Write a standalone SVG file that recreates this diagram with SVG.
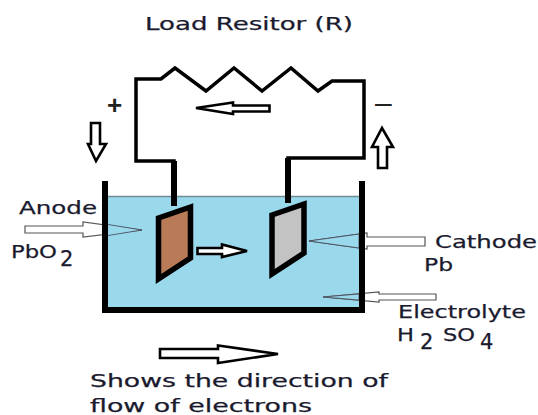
<svg xmlns="http://www.w3.org/2000/svg" width="538" height="415" viewBox="0 0 538 415">
<style>
.t{font-family:"DejaVu Sans","Open Sans",sans-serif;font-size:18px;fill:#1a1a2e;stroke:#1a1a2e;stroke-width:.25px}
.s{font-size:21px}
.w{fill:none;stroke:#000;stroke-width:3.5;stroke-linejoin:miter}
.a{fill:#fff;stroke:#000;stroke-width:2.6}
.thin{fill:#fff;stroke:#555;stroke-width:1.2}
.h{fill:#9ad9eb;stroke:#445;stroke-width:.8}
</style>
<rect width="538" height="415" fill="#fff"/>
<g id="tank">
<rect x="105" y="196" width="257" height="113" fill="#9ad9eb"/>
<path d="M108 196.500H360" stroke="#6f8b95" stroke-width="1.500" fill="none"/>
<path d="M105 181V310H362V181" fill="none" stroke="#000" stroke-width="6"/>
</g>
<g id="connectors">
<path class="w" d="M174 206V161H136V79H161L175 68L206 91L234 68L262 91L291 68L318 91L332 81H364V158H288V203"/>
<path d="M174 161V206M288 158V203" stroke="#000" stroke-width="6" fill="none"/>
</g>
<g id="anode"><polygon points="158.500,218 190.500,207 190.500,258 158.500,279" fill="#b97a57" stroke="#000" stroke-width="5.500"/></g>
<g id="cathode"><polygon points="272,215 304,204 304,253 272,274" fill="#c3c3c3" stroke="#000" stroke-width="5.500"/></g>
<g id="arrow-top"><path class="a" d="M196 108L233 102.500V105.500H269.500V111.500H233V114Z"/></g>
<g id="arrow-left"><path class="a" d="M91 123H100V144H106L96 161L88 144H91Z"/></g>
<g id="arrow-right"><path class="a" d="M378 168V147H372L382 128L393 147H387V168Z"/></g>
<g id="arrow-mid"><path class="a" d="M197.500 248H222V244.500L247 251L222 257V254H197.500Z"/></g>
<g id="arrow-legend"><path class="a" d="M160 349H218V345.500L278 354L218 363V358H160Z"/></g>
<g id="arrow-anode"><path class="thin" d="M25 226H83V222L142 230L83 237V233H25Z"/><path class="h" d="M105 224L142 230L105 236Z"/><rect x="102" y="220" width="6" height="20" fill="#000"/></g>
<g id="arrow-cathode"><path class="thin" d="M425 237V246H367V249L309 241L367 233V237Z"/><path class="h" d="M359 234L309 241L359 248Z"/><rect x="359" y="231" width="6" height="20" fill="#000"/></g>
<g id="arrow-electrolyte"><path class="thin" d="M436 294V300H379V302L323 297L379 292V294Z"/><path class="h" d="M359 294L323 297L359 300Z"/><rect x="359" y="290" width="6" height="14" fill="#000"/></g>
<g id="labels">
<text class="t" x="145" y="30" textLength="208" lengthAdjust="spacingAndGlyphs">Load Resitor (R)</text>
<text x="107" y="114" font-family="Liberation Sans,sans-serif" font-size="26" font-weight="700" fill="#222">+</text>
<text x="375" y="113" font-family="Liberation Sans,sans-serif" font-size="30" fill="#222">–</text>
<text class="t" x="19" y="214" textLength="78" lengthAdjust="spacingAndGlyphs">Anode</text>
<text class="t" x="11" y="258" textLength="46" lengthAdjust="spacingAndGlyphs">PbO</text>
<text class="t s" x="60" y="266">2</text>
<text class="t" x="435" y="248" textLength="102" lengthAdjust="spacingAndGlyphs">Cathode</text>
<text class="t" x="424" y="271" textLength="29" lengthAdjust="spacingAndGlyphs">Pb</text>
<text class="t" x="398" y="318" textLength="128" lengthAdjust="spacingAndGlyphs">Electrolyte</text>
<text class="t" x="397" y="341" textLength="17" lengthAdjust="spacingAndGlyphs">H</text>
<text class="t s" x="420" y="349">2</text>
<text class="t" x="443" y="341" textLength="32" lengthAdjust="spacingAndGlyphs">SO</text>
<text class="t s" x="480" y="349">4</text>
<text class="t" x="90" y="387" textLength="298" lengthAdjust="spacingAndGlyphs">Shows the direction of</text>
<text class="t" x="90" y="412" textLength="222" lengthAdjust="spacingAndGlyphs">flow of electrons</text>
</g>
</svg>
